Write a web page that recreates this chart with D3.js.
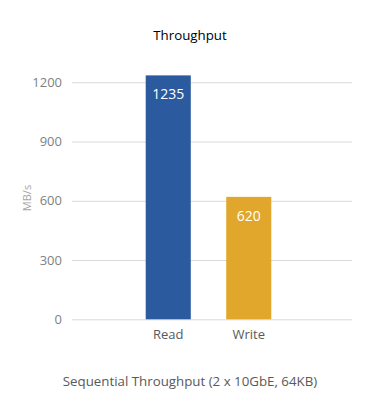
<!DOCTYPE html>
<html><head><meta charset="utf-8">
<script src="https://cdn.jsdelivr.net/npm/d3@7"></script>
<style>body{margin:0;background:#fff;}svg{display:block;font-family:"Open Sans","Segoe UI",sans-serif;}</style>
</head><body>
<svg id="c" width="380" height="420"></svg>
<script>
const categories = ["Read", "Write"];
const values = [1235, 620];
const colors = ["#2C5A9E", "#E1A72C"];
const yTicks = [0, 300, 600, 900, 1200];
const title = "Throughput";
const xTitle = "Sequential Throughput (2 x 10GbE, 64KB)";
const yTitle = "MB/s";

const svg = d3.select("#c");
const mLeft = 72, mRight = 352, mTop = 82.3, mBottom = 319.3;
const y = d3.scaleLinear().domain([0, 1200]).range([mBottom, mTop]);
const x = d3.scaleBand().domain(categories).range([128, 289]).paddingInner(0.44).paddingOuter(0.22);

svg.append("text").attr("x", 190).attr("y", 40).attr("text-anchor", "middle")
  .attr("font-size", 13.3).attr("fill", "#000").text(title);

const yAxis = d3.axisLeft(y).tickValues(yTicks).tickFormat(d3.format("d")).tickSize(-(mRight - mLeft)).tickPadding(10);
const ga = svg.append("g").attr("transform", `translate(${mLeft},0)`).call(yAxis);
ga.select(".domain").remove();
ga.selectAll(".tick line").attr("stroke", "#d9d9d9").attr("stroke-width", 1);
ga.selectAll(".tick text").attr("font-size", 13).attr("fill", "#7f7f7f").attr("font-family", "Open Sans");

svg.append("text").attr("transform", `translate(27,198) rotate(-90)`).attr("text-anchor", "middle")
  .attr("dy", "0.35em").attr("font-size", 11).attr("fill", "#a6a6a6").text(yTitle);

svg.selectAll("rect.bar").data(categories).join("rect").attr("class", "bar")
  .attr("x", d => x(d)).attr("width", x.bandwidth())
  .attr("y", (d, i) => y(values[i])).attr("height", (d, i) => y(0) - y(values[i]))
  .attr("fill", (d, i) => colors[i]);

svg.selectAll("text.val").data(categories).join("text").attr("class", "val")
  .attr("x", d => x(d) + x.bandwidth() / 2).attr("y", (d, i) => y(values[i]) + 24)
  .attr("text-anchor", "middle").attr("font-size", 14).attr("fill", "#fff")
  .text((d, i) => values[i]);

const xAxis = d3.axisBottom(x).tickSize(0).tickPadding(10);
const gx = svg.append("g").attr("transform", `translate(0,${mBottom})`).call(xAxis);
gx.select(".domain").remove();
gx.selectAll(".tick text").attr("font-size", 13).attr("fill", "#595959").attr("font-family", "Open Sans");

svg.append("text").attr("x", 190).attr("y", 386).attr("text-anchor", "middle")
  .attr("font-size", 13.3).attr("fill", "#595959").text(xTitle);
</script>
</body></html>
